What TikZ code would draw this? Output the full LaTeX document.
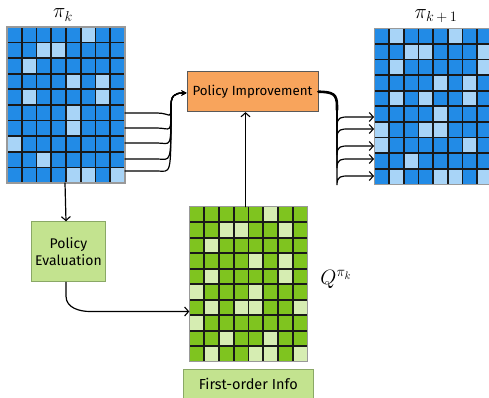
\documentclass[tikz,border=0pt]{standalone}
\usepackage{fontspec}
\setmainfont{Fira Sans}
\usetikzlibrary{arrows.meta}
\definecolor{dblue}{HTML}{228BE6}
\definecolor{lblue}{HTML}{A8D4F7}
\definecolor{dgreen}{HTML}{7FC41F}
\definecolor{lgreen}{HTML}{D6EDB2}
\definecolor{orangebox}{HTML}{F8A45C}
\definecolor{greenbox}{HTML}{C3E38F}
\definecolor{greenedge}{HTML}{8AA866}
\tikzset{
  gridline/.style={black!90, line width=1.8pt},
  gridframe/.style={draw=gray!80, line width=1.2pt, inner sep=0pt, outer sep=0pt},
  conn/.style={black, line width=1.2pt, line cap=round},
  tip/.style={-{Straight Barb[length=4pt,width=9pt,line width=1.1pt]}},
  procbox/.style={draw=gray!70!black, line width=0.8pt, inner sep=0pt, align=center},
  mathlabel/.style={font=\fontsize{22}{26}\selectfont, inner sep=0pt}
}
\newcommand\mygrid[8]{%
  \foreach \row [count=\r] in {#8}{%
    \foreach \v [count=\c] in \row{%
      \ifnum\v=1 \def\cc{#7}\else\def\cc{#6}\fi
      \fill[\cc] ({#2+(\c-1)*#4},{#3+(\r-1)*#5}) rectangle ++(#4,#5);
    }
  }
  \foreach \c in {1,...,7} \draw[gridline] ({#2+\c*#4},#3) -- ++(0,{10*#5});
  \foreach \r in {1,...,9} \draw[gridline] (#2,{#3+\r*#5}) -- ++({8*#4},0);
  \node[gridframe, anchor=north west, minimum width=8*#4pt, minimum height=10*#5pt] (#1) at (#2,#3) {};
}
\begin{document}
\begin{tikzpicture}[x=1pt,y=-1pt]
\useasboundingbox (0,0) rectangle (489,398);
\clip (0,0) rectangle (489,398);
% grids
\mygrid{gridL}{7}{27}{14.75}{15.6}{dblue}{lblue}{%
 {0,0,0,0,0,1,0,0},{0,0,1,1,0,0,0,0},{0,1,0,0,0,0,0,0},{0,0,0,0,1,0,1,0},{0,1,0,0,0,0,1,0},%
 {0,0,0,0,1,0,0,0},{0,0,0,0,1,0,0,0},{1,0,0,0,0,0,0,0},{0,0,1,0,0,0,0,0},{0,0,0,0,1,1,0,1}}
\mygrid{gridR}{374.3}{28.3}{14.7}{15.6}{dblue}{lblue}{%
 {0,1,0,0,0,1,0,0},{0,0,1,1,0,0,0,1},{0,1,0,0,0,0,0,1},{0,0,0,0,1,0,1,0},{0,1,0,1,0,0,1,0},%
 {0,0,0,0,1,0,0,0},{1,0,0,1,1,0,0,0},{1,0,0,0,0,0,1,0},{0,0,1,0,0,0,0,0},{0,1,0,0,1,1,0,1}}
\mygrid{gridG}{189.3}{206.7}{14.8}{15.5}{dgreen}{lgreen}{%
 {0,0,0,0,0,1,0,0},{0,0,1,1,0,0,1,0},{0,1,0,0,0,0,0,0},{0,0,0,0,1,0,1,0},{0,1,0,0,0,0,1,0},%
 {1,0,0,0,1,0,0,0},{0,1,0,1,1,0,0,1},{1,0,0,0,0,0,0,0},{0,0,1,0,0,1,0,0},{0,1,0,0,1,1,0,1}}
% labels
\node[mathlabel] (lpik) at (63,15) {$\pi_k$};
\node[mathlabel] (lpik1) at (436,16) {$\pi_{k\mkern3mu+\mkern3mu1}$};
\node[mathlabel] (lq) at (336,279) {$Q^{\pi_k}$};
% boxes
\node[procbox, fill=orangebox, minimum width=131pt, minimum height=40pt, font=\fontsize{13.3}{16}\selectfont] (pi) at (252.5,91.7) {Policy Improvement};
\node[procbox, fill=greenbox, draw=greenedge, minimum width=73.6pt, minimum height=60pt, font=\fontsize{14}{17}\selectfont] (pe) at (68.5,251.7) {Policy\\Evaluation};
\node[procbox, fill=greenbox, draw=greenedge, minimum width=130pt, minimum height=30pt, font=\fontsize{14.5}{17}\selectfont] (foi) at (248.3,384) {First-order Info};
% coordinates
\coordinate (piin) at (186.5,93);
\foreach \y [count=\i] in {113,128,143,159,171}{
  \coordinate (ls\i) at (125,\y);
}
\foreach \y [count=\i] in {117,129,146,159,176}{
  \coordinate (rt\i) at (374,\y);
}
% left bundle
\foreach \i in {1,...,5}{
  \draw[conn, -{Stealth[length=5pt,width=5pt]}] (ls\i) -- ([xshift=32pt]ls\i) .. controls ([xshift=46pt]ls\i) and ([xshift=46pt,yshift=-8pt]ls\i) .. (171,106) .. controls (171,96) and (174,93) .. (piin);
}
% right bundle
\draw[conn, line width=2.6pt] (pi.east) .. controls (333,92) and (337,94) .. (337,106) -- (337,110);
\foreach \i in {1,...,5}{
  \draw[conn, tip] (pi.east) .. controls (333,92) and (337,94) .. (337,106) -- ([xshift=-37pt,yshift=-9pt]rt\i) .. controls ([xshift=-37pt]rt\i) and ([xshift=-33pt]rt\i) .. ([xshift=-25pt]rt\i) -- (rt\i);
}
% vertical to improvement
\draw[conn, tip] ([xshift=-3pt]gridG.north) -- ([xshift=-7pt]pi.south);
% left grid down to evaluation
\draw[conn, tip] ([xshift=-1pt]gridL.south) -- (pe.north -| gridL.south);
% evaluation to Q grid
\draw[conn, tip] ([xshift=-2.5pt]pe.south) -- ++(0,14) .. controls ++(0,12) and (80,311.5) .. (90,311.5) -- (gridG.west |- 0,311.5);
\end{tikzpicture}
\end{document}
